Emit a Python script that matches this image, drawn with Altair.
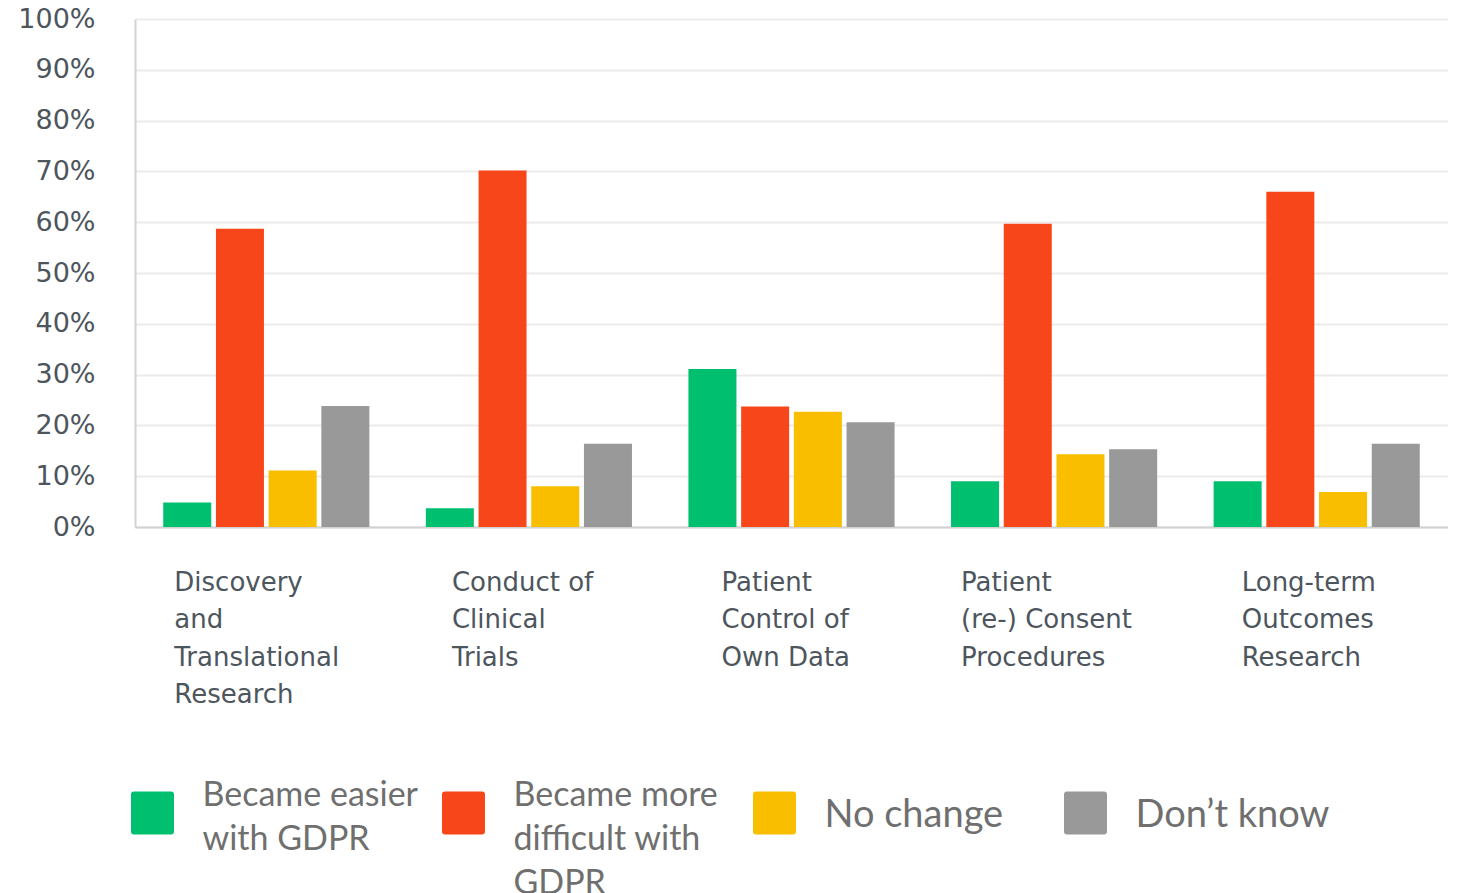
import json
import altair as alt
import pandas as pd

# ---- data ----
label_lines = [
    ["Discovery", "and", "Translational", "Research"],
    ["Conduct of", "Clinical", "Trials"],
    ["Patient", "Control of", "Own Data"],
    ["Patient", "(re-) Consent", "Procedures"],
    ["Long-term", "Outcomes", "Research"],
]
categories = [" ".join(l) for l in label_lines]

answers = ["Became easier with GDPR", "Became more difficult with GDPR", "No change", "Don’t know"]
colors = ["#00BF6F", "#F7461A", "#F9BE00", "#999999"]

easier = [4.8, 3.7, 31.1, 9.0, 9.0]
more_difficult = [58.7, 70.2, 23.7, 59.7, 66.0]
no_change = [11.1, 8.0, 22.7, 14.3, 6.9]
dont_know = [23.8, 16.4, 20.6, 15.3, 16.4]

legend_lines = [["Became easier", "with GDPR"], ["Became more", "difficult with", "GDPR"], ["No change"], ["Don’t know"]]

y_ticks = list(range(0, 101, 10))

# ---- tables ----
series = [easier, more_difficult, no_change, dont_know]
rows = []
for a, vals in zip(answers, series):
    for c, v in zip(categories, vals):
        rows.append({"category": c, "answer": a, "value": v})
df = pd.DataFrame(rows)

leg_df = pd.DataFrame({
    "answer": answers,
    "label": ["\n".join(l) for l in legend_lines],
    "lines": [len(l) for l in legend_lines],
})

# x label text (multi-line) and per-label horizontal offsets (left-aligned block)
label_expr = ""
for c, l in zip(categories, label_lines):
    label_expr += f"datum.value == {json.dumps(c)} ? {json.dumps(l)} : "
label_expr += "datum.label"
label_offsets = [-92, -77, -70, -93, -75]
offset_cond = {
    "condition": [{"test": f"datum.value == {json.dumps(c)}", "value": o} for c, o in zip(categories, label_offsets)],
    "value": -80,
}

text_color = "#4d555d"
axis_font = "DejaVu Sans"

color_scale = alt.Scale(domain=answers, range=colors)

bars = alt.Chart(df).mark_bar().encode(
    x=alt.X(
        "category:N", sort=categories, title=None,
        scale=alt.Scale(domain=categories, paddingInner=0.215, paddingOuter=0.1075),
        axis=alt.Axis(
            labelExpr=label_expr, labelAlign="left", labelBaseline="top",
            labelOffset=offset_cond, labelPadding=42, labelFontSize=26,
            labelLineHeight=37.5, labelLimit=0, labelAngle=0,
            ticks=False, tickSize=0, domainColor="#d2d2d2", domainWidth=2,
            labelFont=axis_font, labelColor=text_color, grid=False,
        ),
    ),
    xOffset=alt.XOffset("answer:N", sort=answers,
                        scale=alt.Scale(domain=answers, paddingInner=0.089, paddingOuter=0)),
    y=alt.Y(
        "value:Q", title=None,
        scale=alt.Scale(domain=[0, 100], nice=False),
        axis=alt.Axis(
            values=y_ticks, labelExpr="datum.value + '%'", labelFontSize=27,
            labelPadding=40, ticks=False, tickSize=0,
            domainColor="#d2d2d2", domainWidth=2,
            gridColor="#ebebeb", gridWidth=2,
            labelFont=axis_font, labelColor=text_color,
        ),
    ),
    color=alt.Color("answer:N", sort=answers, scale=color_scale, legend=None),
).properties(width=1313, height=508)

# ---- custom legend (4 equal bands of 311 px; marks sit at band centre) ----
leg_base = alt.Chart(leg_df).encode(
    x=alt.X("answer:N", sort=answers, title=None,
            scale=alt.Scale(domain=answers, paddingInner=0, paddingOuter=0), axis=None),
)
symbols = leg_base.mark_square(size=37 * 37, strokeWidth=6, strokeJoin="round",
                               opacity=1, xOffset=-138).encode(
    fill=alt.Fill("answer:N", sort=answers, scale=color_scale, legend=None),
    stroke=alt.Stroke("answer:N", sort=answers, scale=color_scale, legend=None),
)
multi = leg_base.transform_filter("datum.lines > 1").mark_text(
    align="left", baseline="top", lineBreak="\n", lineHeight=44,
    font="Lato", fontSize=34, color="#6f6f6f", xOffset=-88, yOffset=-34,
).encode(text="label:N")
single = leg_base.transform_filter("datum.lines == 1").mark_text(
    align="left", baseline="middle", font="Lato", fontSize=38,
    color="#6f6f6f", xOffset=-88, yOffset=3,
).encode(text="label:N")

legend = alt.layer(symbols, multi, single).properties(width=1244, height=44)

chart = alt.vconcat(bars, legend, spacing=71).configure_view(strokeWidth=0).properties(
    padding={"left": 9, "top": -3, "right": 0, "bottom": 0}
)

chart.save("out.html", embed_options={"renderer": "svg", "actions": False})
